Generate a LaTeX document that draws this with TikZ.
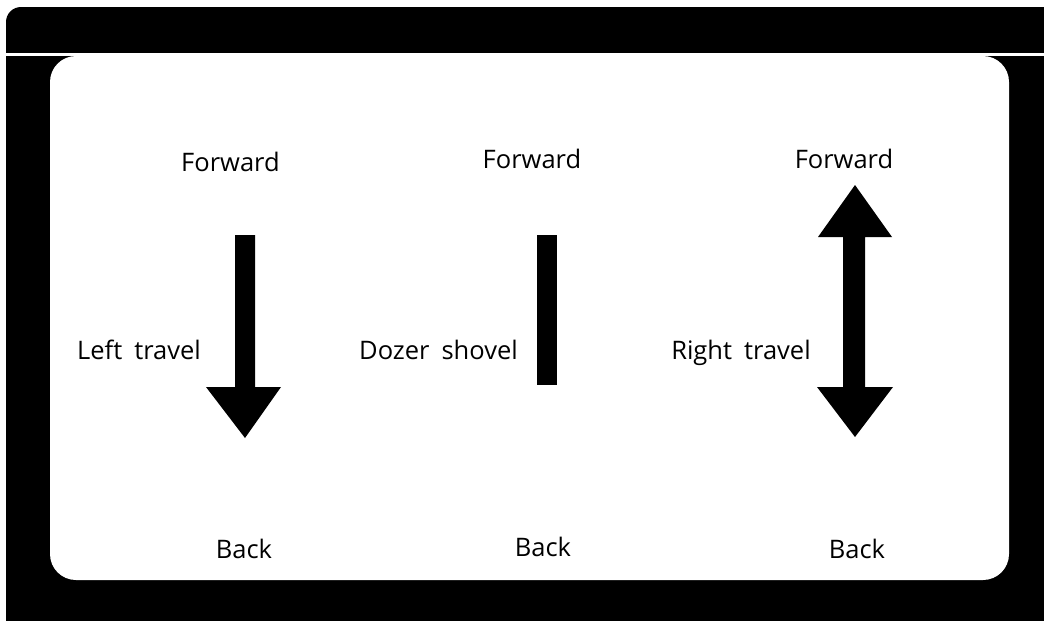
\documentclass[tikz,border=0pt]{standalone}
\usepackage{fontspec}
\setmainfont{Open Sans}
\newcommand{\wsp}{\hspace{12pt}}
\begin{document}
\begin{tikzpicture}[x=1pt,y=-1pt,
  lbl/.style={anchor=base,inner sep=0pt,font=\fontsize{25.5}{30}\selectfont},
  arrowshape/.style={fill=black,draw=none}]
\useasboundingbox (0,0) rectangle (1044,621);
\fill[white] (0,0) rectangle (1044,621);
% black frame
\fill[black,rounded corners=15pt] (6,7) rectangle (1070,650);
\fill[white] (0,53) rectangle (1044,56);
\fill[white,rounded corners=26pt] (50,56) rectangle (1009,580);
% arrows and bar
\fill[arrowshape] (235,235) -- (255,235) -- (255,387) -- (281,387) -- (245,438) -- (206,387) -- (235,387) -- cycle;
\fill[arrowshape] (537,235) rectangle (557,385);
\fill[arrowshape] (855,185) -- (892,237) -- (865,237) -- (865,387) -- (893,387) -- (855,437) -- (817,387) -- (843,387) -- (843,237) -- (818,237) -- cycle;
% labels
\node[lbl] (f1) at (230.5,171) {Forward};
\node[lbl] (f2) at (532,168) {Forward};
\node[lbl] (f3) at (844,168) {Forward};
\node[lbl] (lt) at (139,359) {Left\wsp travel};
\node[lbl] (ds) at (438.5,359) {Dozer\wsp shovel};
\node[lbl] (rt) at (741,359) {Right\wsp travel};
\node[lbl] (b1) at (244,558) {Back};
\node[lbl] (b2) at (543,556) {Back};
\node[lbl] (b3) at (857,558) {Back};
\end{tikzpicture}
\end{document}
